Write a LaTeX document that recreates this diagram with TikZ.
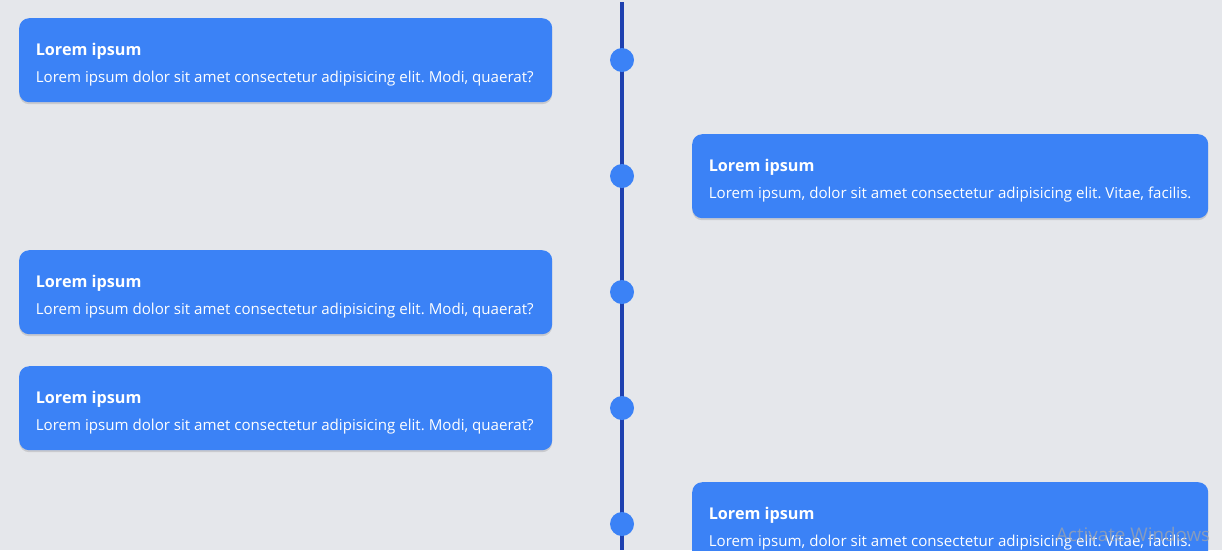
\documentclass[tikz,border=0pt]{standalone}
\usepackage{fontspec}
\setmainfont{Open Sans}
\usetikzlibrary{shadows}
\definecolor{pagebg}{HTML}{E5E7EB}
\definecolor{cardblue}{HTML}{3B82F6}
\definecolor{linkblue}{HTML}{1E40AF}
\frenchspacing
\tikzset{
    card/.style={fill=cardblue, rounded corners=10pt, minimum height=84pt, inner sep=0pt, anchor=north west,
        drop shadow={shadow xshift=0pt, shadow yshift=-2pt, opacity=0.12, fill=black}},
    leftcard/.style={card, minimum width=533pt},
    rightcard/.style={card, minimum width=516pt},
    dot/.style={circle, fill=cardblue, minimum size=24pt, inner sep=0pt},
    heading/.style={anchor=base west, text=white, inner sep=0pt, font=\fontsize{16.2}{18}\selectfont\bfseries},
    body/.style={anchor=base west, text=white, inner sep=0pt, font=\fontsize{15.1}{18}\selectfont},
}
\begin{document}
\begin{tikzpicture}[x=1pt,y=-1pt]
    \clip (0,0) rectangle (1222,550);
    \fill[pagebg] (0,0) rectangle (1222,550);
    \coordinate (top) at (622,2);
    \coordinate (bottom) at (622,550);
    \draw[linkblue, line width=4pt] (top)--(bottom);
    \foreach \name/\ypos in {a/60,b/176,c/292,d/408,e/524}
        \node[dot] (dot\name) at (622,\ypos) {};
    \foreach \name/\ypos in {a/18,c/250,d/366}{
        \node[leftcard] (card\name) at (19,\ypos) {};
        \node[heading] (head\name) at (35.6,\ypos+37) {Lorem ipsum};
        \node[body] (text\name) at (35.6,\ypos+64) {Lorem ipsum dolor sit amet consectetur adipisicing elit. Modi, quaerat?};
    }
    \foreach \name/\ypos in {b/134,e/482}{
        \node[rightcard] (card\name) at (692,\ypos) {};
        \node[heading] (head\name) at (708.6,\ypos+37) {Lorem ipsum};
        \node[body] (text\name) at (708.6,\ypos+64) {Lorem ipsum, dolor sit amet consectetur adipisicing elit. Vitae, facilis.};
    }
    \node[anchor=base west, inner sep=0pt, text=black!35, opacity=0.7, font=\fontsize{18.8}{20}\selectfont] (mark) at (1056,541) {Activate Windows};
\end{tikzpicture}
\end{document}
